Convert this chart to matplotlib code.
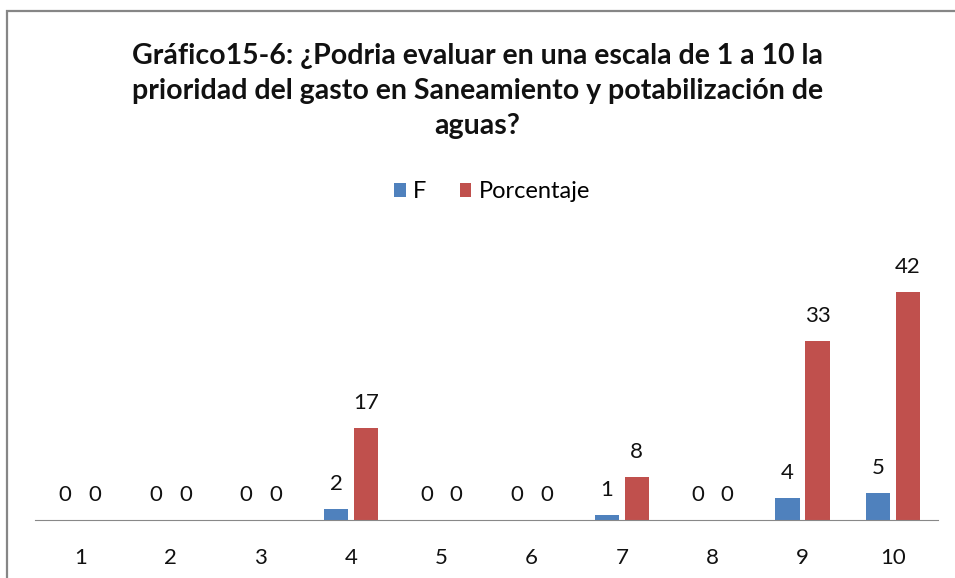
import matplotlib
import matplotlib.pyplot as plt
import numpy as np
from matplotlib.patches import Rectangle

matplotlib.rcParams.update({'font.family': ['Lato', 'DejaVu Sans']})

categorias = ["1", "2", "3", "4", "5", "6", "7", "8", "9", "10"]
f_vals = [0, 0, 0, 2, 0, 0, 1, 0, 4, 5]
porcentaje = [0, 0, 0, 17, 0, 0, 8, 0, 33, 42]

titulo = ("Gráfico15-6: ¿Podria evaluar en una escala de 1 a 10 la\n"
          "prioridad del gasto en Saneamiento y potabilización de\n"
          "aguas?")

azul = "#4F81BD"
rojo = "#C0504D"

fig = plt.figure(figsize=(9.55, 5.78), dpi=100)

# marco del grafico (cortado a la derecha y abajo)
fig.patches.append(Rectangle((7 / 955, -0.05), 1.0, 1 - 11 / 578 + 0.05,
                             transform=fig.transFigure, fill=False,
                             edgecolor="#868686", linewidth=1.6))

ax = fig.add_axes([35 / 955, 1 - 520 / 578, (938 - 35) / 955, 0.423])

x = np.arange(len(categorias))
w = 0.27
b1 = ax.bar(x - 0.165, f_vals, w, color=azul, label="F")
b2 = ax.bar(x + 0.165, porcentaje, w, color=rojo, label="Porcentaje")

for barras, vals in [(b1, f_vals), (b2, porcentaje)]:
    for rect, v in zip(barras, vals):
        ax.annotate(str(v), (rect.get_x() + rect.get_width() / 2, v),
                    xytext=(0, 18), textcoords="offset points",
                    ha="center", va="center", fontsize=16, color="#111111")

ax.set_xlim(-0.5, 9.5)
ax.set_ylim(0, 45)
ax.set_xticks(x)
ax.set_xticklabels(categorias, fontsize=16)
ax.tick_params(axis="x", length=0, pad=20, colors="#111111")
ax.set_yticks([])
for s in ["top", "right", "left"]:
    ax.spines[s].set_visible(False)
ax.spines["bottom"].set_color("#888888")

fig.text(0.5, 1 - 91 / 578, titulo, ha="center", va="center",
         fontsize=20.5, fontweight="bold", linespacing=1.42, color="#111111")

fig.legend(loc="center", bbox_to_anchor=(492 / 955, 1 - 192 / 578), ncol=2,
           frameon=False, fontsize=17, handlelength=0.5, handleheight=0.5,
           handletextpad=0.3, columnspacing=1.4)

plt.savefig("out.png")
